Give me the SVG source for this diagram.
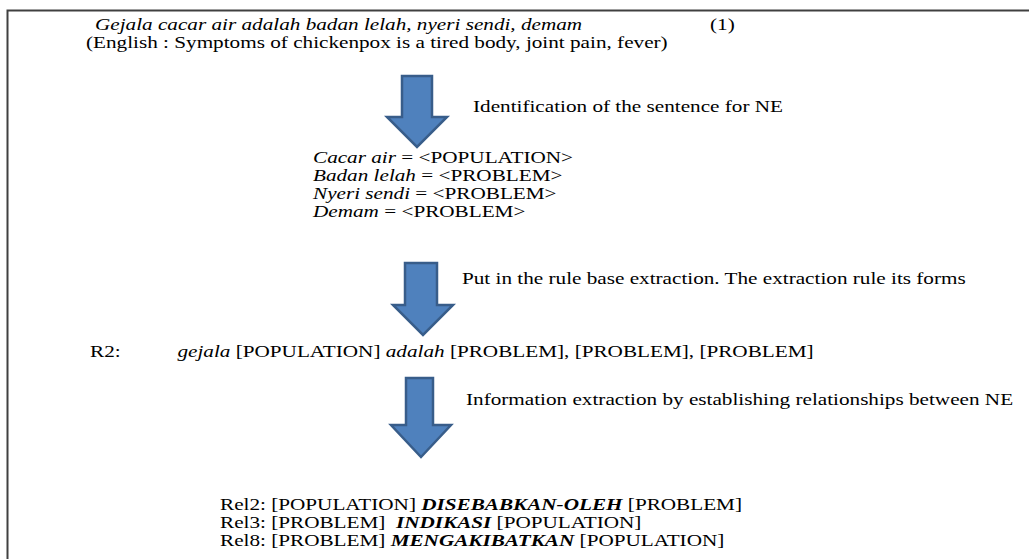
<svg xmlns="http://www.w3.org/2000/svg" width="1029" height="559" viewBox="0 0 1029 559">
<style>
text{font-family:"Liberation Serif","Times New Roman",serif;font-size:16px;fill:#000}
.i{font-style:italic}
.bi{font-style:italic;font-weight:bold}
.arrow{fill:#4F81BD;stroke:#385D8A;stroke-width:2.5;stroke-linejoin:miter}
</style>
<rect width="1029" height="559" fill="#fff"/>
<path d="M7.5 559 V10.5 H1029" fill="none" stroke="#404040" stroke-width="2"/>
<g id="sentence">
<text transform="translate(95 30) scale(1.325 1)" class="i">Gejala cacar air adalah badan lelah, nyeri sendi, demam</text>
<text transform="translate(710 30) scale(1.325 1)">(1)</text>
<text transform="translate(86 48) scale(1.325 1)">(English : Symptoms of chickenpox is a tired body, joint pain, fever)</text>
</g>
<g id="entities">
<text transform="translate(313 163) scale(1.325 1)"><tspan class="i">Cacar air</tspan> = &lt;POPULATION&gt;</text>
<text transform="translate(313 181) scale(1.325 1)"><tspan class="i">Badan lelah</tspan> = &lt;PROBLEM&gt;</text>
<text transform="translate(313 199) scale(1.325 1)"><tspan class="i">Nyeri sendi</tspan> = &lt;PROBLEM&gt;</text>
<text transform="translate(313 217) scale(1.325 1)"><tspan class="i">Demam</tspan> = &lt;PROBLEM&gt;</text>
</g>
<g id="rule">
<text transform="translate(90 357) scale(1.325 1)">R2:<tspan x="66" class="i">gejala</tspan> [POPULATION] <tspan class="i">adalah</tspan> [PROBLEM], [PROBLEM], [PROBLEM]</text>
</g>
<g id="relations">
<text transform="translate(220 510) scale(1.325 1)">Rel2: [POPULATION] <tspan class="bi">DISEBABKAN-OLEH</tspan> [PROBLEM]</text>
<text transform="translate(220 528) scale(1.325 1)">Rel3: [PROBLEM] <tspan class="bi" dx="4">INDIKASI</tspan> [POPULATION]</text>
<text transform="translate(220 546) scale(1.325 1)">Rel8: [PROBLEM] <tspan class="bi">MENGAKIBATKAN</tspan> [POPULATION]</text>
</g>
<g id="connectors">
<path class="arrow" d="M402 76 H432 V117 H447 L417 147 L387 117 H402 Z"/>
<path class="arrow" d="M405 263 H437 V305 H453 L423 335 L393 305 H405 Z"/>
<path class="arrow" d="M406 378 H433 V425 H451 L421 457 L391 425 H406 Z"/>
<text transform="translate(473 112) scale(1.325 1)">Identification of the sentence for NE</text>
<text transform="translate(462 284) scale(1.325 1)">Put in the rule base extraction. The extraction rule its forms</text>
<text transform="translate(466 405) scale(1.325 1)">Information extraction by establishing relationships between NE</text>
</g>
</svg>
